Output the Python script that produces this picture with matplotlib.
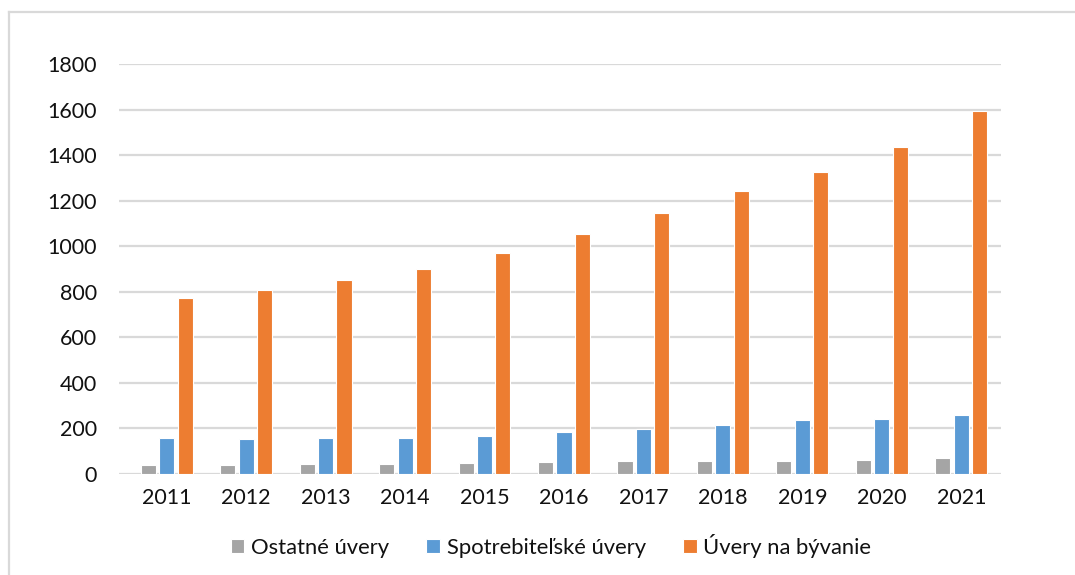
import numpy as np
import matplotlib
matplotlib.use("Agg")
import matplotlib.pyplot as plt
from matplotlib.lines import Line2D

roky = ['2011', '2012', '2013', '2014', '2015', '2016', '2017', '2018', '2019', '2020', '2021']
ostatne = [38, 38, 42, 45, 50, 54, 57, 58, 57, 61, 70]
spotrebitelske = [156, 155, 158, 158, 169, 184, 197, 213, 235, 240, 257]
byvanie = [771, 809, 852, 898, 971, 1052, 1147, 1243, 1328, 1435, 1594]

plt.rcParams['font.family'] = ['Lato', 'DejaVu Sans']
plt.rcParams['font.size'] = 15

W, H = 1075, 575
fig = plt.figure(figsize=(W / 100, H / 100), dpi=100)
ax = fig.add_axes([119 / W, (H - 474) / H, (1001 - 119) / W, (474 - 64) / H])

x = np.arange(len(roky))
sirka = 0.19
posun = 0.232
ax.bar(x - posun, ostatne, sirka, color='#A5A5A5', edgecolor='white', linewidth=0.8, label='Ostatné úvery', zorder=3)
ax.bar(x, spotrebitelske, sirka, color='#5B9BD5', edgecolor='white', linewidth=0.8, label='Spotrebiteľské úvery', zorder=3)
ax.bar(x + posun, byvanie, sirka, color='#ED7D31', edgecolor='white', linewidth=0.8, label='Úvery na bývanie', zorder=3)

ax.set_ylim(0, 1800)
ax.set_yticks(range(0, 1801, 200))
ax.set_xlim(-0.6, 10.5)
ax.set_xticks(x)
ax.set_xticklabels(roky)
ax.grid(axis='y', color='#D9D9D9', linewidth=1.6, zorder=0)
for s in ax.spines.values():
    s.set_visible(False)
ax.tick_params(axis='y', length=0, pad=16, colors='#111111', labelsize=15.5)
ax.tick_params(axis='x', length=0, pad=10, colors='#111111', labelsize=15.5)

fig.legend(loc='center', bbox_to_anchor=(551 / W, 1 - 546 / H), ncol=3, frameon=False,
           fontsize=15.8, handlelength=0.62, handleheight=0.62, handletextpad=0.3,
           columnspacing=1.7, labelcolor='#111111')

# svetlý rámik grafu
ram = '#D9D9D9'
fig.add_artist(Line2D([9 / W, 9 / W], [0, 1 - 12 / H], color=ram, linewidth=1.6))
fig.add_artist(Line2D([9 / W, 1], [1 - 12 / H, 1 - 12 / H], color=ram, linewidth=1.6))

fig.savefig('out.png', dpi=100)
